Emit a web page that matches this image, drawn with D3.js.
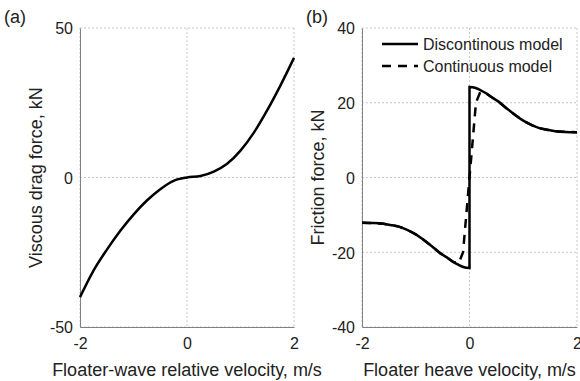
<!DOCTYPE html>
<html><head><meta charset="utf-8">
<script src="https://cdn.jsdelivr.net/npm/d3@7"></script>
<style>body{margin:0;background:#fff}svg{display:block;font-family:"Liberation Sans",Arial,sans-serif}</style>
</head><body><svg id="c" width="580" height="381"></svg>
<script>
// Panel (a) data: viscous drag force vs relative velocity
const dragV = [-2,-1.75,-1.5,-1.25,-1.0,-0.75,-0.5,-0.25,0,0.25,0.5,0.75,1.0,1.25,1.5,1.75,2.0];
const dragF = [-40,-31.2,-24.2,-17.9,-12.4,-7.7,-3.9,-1.1,0,0.5,2.0,4.6,9.0,15.0,22.5,30.9,40];
// Panel (b) data: friction force
const fricV = [-2,-1.78,-1.6,-1.47,-1.3,-1.16,-1.0,-0.85,-0.7,-0.54,-0.4,-0.3,-0.2,-0.1,0,0,0.1,0.2,0.3,0.4,0.54,0.7,0.85,1.0,1.16,1.3,1.47,1.6,1.78,2];
const fricDisc = [-12.1,-12.2,-12.4,-12.7,-13.2,-14.0,-15.2,-16.7,-18.4,-20.3,-21.6,-22.6,-23.4,-24.0,-24.2,24.2,24.0,23.4,22.6,21.6,20.3,18.4,16.7,15.2,14.0,13.2,12.7,12.4,12.2,12.1];
const contV = [-2,-1.78,-1.6,-1.47,-1.3,-1.16,-1.0,-0.85,-0.7,-0.54,-0.4,-0.3,-0.2,-0.12,0,0.12,0.2,0.3,0.4,0.54,0.7,0.85,1.0,1.16,1.3,1.47,1.6,1.78,2];
const fricCont = [-12.1,-12.2,-12.4,-12.7,-13.2,-14.0,-15.2,-16.7,-18.4,-20.3,-21.6,-22.6,-22.9,-20,0,20,22.9,22.6,21.6,20.3,18.4,16.7,15.2,14.0,13.2,12.7,12.4,12.2,12.1];
const xTicks = [-2,0,2];
const yTicksA = [-50,0,50];
const yTicksB = [-40,-20,0,20,40];
const legendLabels = ["Discontinous model","Continuous model"];

const svg = d3.select("#c");
const plotTop = 28, plotBottom = 327;
const fmt = d => String(d);

function panel(x0, x1, ydom, yticks, ylabel, xlabel, ylabX, tag, tagX) {
  const x = d3.scaleLinear().domain([-2,2]).range([x0,x1]);
  const y = d3.scaleLinear().domain(ydom).range([plotBottom,plotTop]);
  const g = svg.append("g");
  g.append("g").selectAll("line").data(xTicks).join("line")
    .attr("x1",d=>x(d)).attr("x2",d=>x(d)).attr("y1",plotTop).attr("y2",plotBottom)
    .attr("stroke","#c8c8c8").attr("stroke-width",1).attr("stroke-dasharray","2,2");
  g.append("g").selectAll("line").data(yticks).join("line")
    .attr("x1",x0).attr("x2",x1).attr("y1",d=>y(d)).attr("y2",d=>y(d))
    .attr("stroke","#c8c8c8").attr("stroke-width",1).attr("stroke-dasharray","2,2");
  const xa = g.append("g").attr("transform",`translate(0,${plotBottom})`)
    .call(d3.axisBottom(x).tickValues(xTicks).tickSize(0).tickPadding(11).tickFormat(fmt));
  const ya = g.append("g").attr("transform",`translate(${x0},0)`)
    .call(d3.axisLeft(y).tickValues(yticks).tickSize(0).tickPadding(7).tickFormat(fmt));
  [xa,ya].forEach(a=>{
    a.select(".domain").attr("stroke","#808080").attr("stroke-width",1);
    a.selectAll("text").attr("font-size",16).attr("fill","#222").attr("font-family","Liberation Sans, Arial, sans-serif");
  });
  xa.selectAll("text").attr("dy","0.71em");
  ya.selectAll("text").attr("dy","0.36em");
  g.append("text").attr("x",(x0+x1)/2).attr("y",376).attr("text-anchor","middle")
    .attr("font-size",18).attr("fill","#222").text(xlabel);
  g.append("text").attr("transform",`translate(${ylabX},${(plotTop+plotBottom)/2}) rotate(-90)`)
    .attr("text-anchor","middle").attr("font-size",18).attr("fill","#222").text(ylabel);
  g.append("text").attr("x",tagX).attr("y",23).attr("font-size",18).attr("fill","#222").text(tag);
  return {x,y,g};
}

const A = panel(80,294,[-50,50],yTicksA,"Viscous drag force, kN","Floater-wave relative velocity, m/s",42,"(a)",4);
const B = panel(362,577,[-40,40],yTicksB,"Friction force, kN","Floater heave velocity, m/s",324,"(b)",306);

const lineA = d3.line().x(d=>A.x(d[0])).y(d=>A.y(d[1])).curve(d3.curveMonotoneX);
A.g.append("path").attr("d",lineA(d3.zip(dragV,dragF))).attr("fill","none").attr("stroke","#000").attr("stroke-width",2.5);

const lineB = d3.line().x(d=>B.x(d[0])).y(d=>B.y(d[1])).curve(d3.curveLinear);
const smooth = d3.line().x(d=>B.x(d[0])).y(d=>B.y(d[1])).curve(d3.curveCatmullRom);
const disc = d3.zip(fricV,fricDisc);
const negPts = disc.slice(0,15), posPts = disc.slice(15);
const pathD = smooth(negPts) + "L" + smooth(posPts).slice(1);
B.g.append("path").attr("d",pathD).attr("fill","none").attr("stroke","#000").attr("stroke-width",2.5);
B.g.append("path").attr("d",lineB(d3.zip(contV,fricCont))).attr("fill","none").attr("stroke","#000").attr("stroke-width",2.5).attr("stroke-dasharray","9,7");

const leg = B.g.append("g");
legendLabels.forEach((t,i)=>{
  const yy = 44 + i*22;
  leg.append("line").attr("x1",382).attr("x2",418).attr("y1",yy).attr("y2",yy)
    .attr("stroke","#000").attr("stroke-width",2.5).attr("stroke-dasharray",i===1?"9,7":null);
  leg.append("text").attr("x",423).attr("y",yy).attr("dy","0.36em").attr("font-size",16).attr("fill","#222").text(t);
});
</script></body></html>
